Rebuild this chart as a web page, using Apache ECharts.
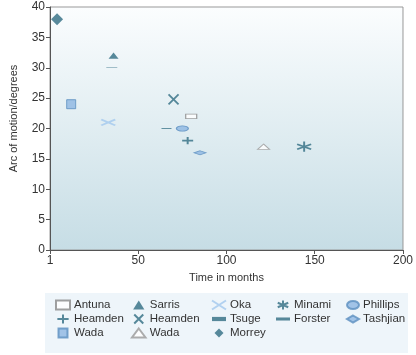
<!DOCTYPE html>
<html><head><meta charset="utf-8">
<script src="https://cdn.jsdelivr.net/npm/echarts@6/dist/echarts.min.js"></script>
<style>html,body{margin:0;padding:0;background:#fff}#c{width:416px;height:355px}</style>
</head><body><div id="c"></div>
<script>
// Study names (legend order, row by row) and their [months, degrees] values
const names = ['Antuna','Sarris','Oka','Minami','Phillips','Heamden','Heamden ','Tsuge','Forster','Tashjian','Wada','Wada ','Morrey'];
const months = [80, 36, 33, 144, 75, 78, 70, 66, 35, 85, 12, 121, 4];
const degrees = [22, 32, 21, 17, 20, 18, 24.8, 20, 30, 16, 24, 17, 38];
const xTicks = [0, 50, 100, 150, 200];
const xTickLabels = ['1', '50', '100', '150', '200'];

const dark = '#2f6d82', light = '#8db7e2', lightB = '#5b8ebf';
const styles = {
  'Antuna':  {symbol:'path://M0 0h11v7h-11z', size:[11,7], item:{color:'#fff', borderColor:'#888', borderWidth:1}},
  'Sarris':  {symbol:'path://M5 0L10 8L0 8Z', size:[10,8], item:{color:dark}},
  'Oka':     {symbol:'path://M0 0L14 9M14 0L0 9', size:[14,9], item:{color:'rgba(0,0,0,0)', borderColor:'#a2c8ee', borderWidth:2}},
  'Minami':  {symbol:'path://M7 0V12M0 3L14 9M0 9L14 3', size:[14,12], item:{color:'rgba(0,0,0,0)', borderColor:dark, borderWidth:1.8}},
  'Phillips':{symbol:'path://M0 4A6 4 0 1 0 12 4A6 4 0 1 0 0 4Z', size:[12,8], item:{color:light, borderColor:lightB, borderWidth:1}},
  'Heamden': {symbol:'path://M5 0V8M0 4H10', size:[11,9], item:{color:'rgba(0,0,0,0)', borderColor:dark, borderWidth:1.8}},
  'Heamden ':{symbol:'path://M0 0L10 10M10 0L0 10', size:[10,10], item:{color:'rgba(0,0,0,0)', borderColor:dark, borderWidth:1.8}},
  'Tsuge':   {symbol:'path://M0 0h10v3h-10z', size:[10,3], item:{color:dark}},
  'Forster': {symbol:'path://M0 0h11v2.4h-11z', size:[11,2.4], item:{color:dark}},
  'Tashjian':{symbol:'path://M6 0L12 3.5L6 7L0 3.5Z', size:[12,7], item:{color:light, borderColor:lightB, borderWidth:1}},
  'Wada':    {symbol:'path://M0 0h9v9h-9z', size:[9,9], item:{color:light, borderColor:lightB, borderWidth:1}},
  'Wada ':   {symbol:'path://M6 0L12 8L0 8Z', size:[12,8], item:{color:'#fff', borderColor:'#999', borderWidth:1}},
  'Morrey':  {symbol:'path://M5 0L10 5L5 10L0 5Z', size:[12,12], item:{color:dark}}
};

const series = names.map((n, i) => ({
  type:'scatter', name:n, data:[[months[i], degrees[i]]],
  symbol: styles[n].symbol, symbolSize: styles[n].size, symbolKeepAspect:true,
  itemStyle: styles[n].item, emphasis:{disabled:true}, z:3
}));

const cols = [
  {left:55, data:['Antuna','Heamden','Wada']},
  {left:131, data:['Sarris','Heamden ','Wada ']},
  {left:211, data:['Oka','Tsuge','Morrey']},
  {left:276, data:['Minami','Forster']},
  {left:346, data:['Phillips','Tashjian'], w:12}
];
const font = 'Liberation Sans';
const legends = cols.map(c => ({
  orient:'vertical', left:c.left, top:298, padding:0, itemGap:0,
  itemWidth:c.w||14, itemHeight:9, selectedMode:false,
  textStyle:{fontFamily:font, fontSize:11.5, color:'#333', lineHeight:14, padding:[0,0,0,-1]},
  data:c.data
}));

const chart = echarts.init(document.getElementById('c'));
chart.setOption({
  animation:false,
  textStyle:{fontFamily:font},
  graphic:[{type:'rect', shape:{x:45, y:293, width:363, height:60}, style:{fill:'#eef5fa'}, z:-1}],
  grid:{left:45, right:8, top:7, bottom:105, show:true, borderColor:'#999', borderWidth:1,
    backgroundColor:{type:'linear', x:0, y:0, x2:0, y2:1, colorStops:[{offset:0,color:'#fbfdfe'},{offset:1,color:'#c6dde5'}]}},
  legend: legends,
  xAxis:{type:'value', min:0, max:200, interval:50,
    name:'Time in months', nameLocation:'middle', nameGap:22,
    nameTextStyle:{fontFamily:font, fontSize:11, color:'#333'},
    axisLine:{show:true, lineStyle:{color:'#555'}},
    axisTick:{show:true, length:4, lineStyle:{color:'#555'}},
    axisLabel:{fontFamily:font, fontSize:12, color:'#333', margin:5,
      formatter:v => xTickLabels[xTicks.indexOf(v)]},
    splitLine:{show:false}},
  yAxis:{type:'value', min:0, max:40, interval:5,
    name:'Arc of motion/degrees', nameLocation:'middle', nameGap:31,
    nameTextStyle:{fontFamily:font, fontSize:11, color:'#333', padding:[0,0,0,20]},
    axisLine:{show:true, lineStyle:{color:'#555'}},
    axisTick:{show:true, length:4, lineStyle:{color:'#555'}},
    axisLabel:{fontFamily:font, fontSize:12, color:'#333', margin:5},
    splitLine:{show:false}},
  series: series
});
</script></body></html>
